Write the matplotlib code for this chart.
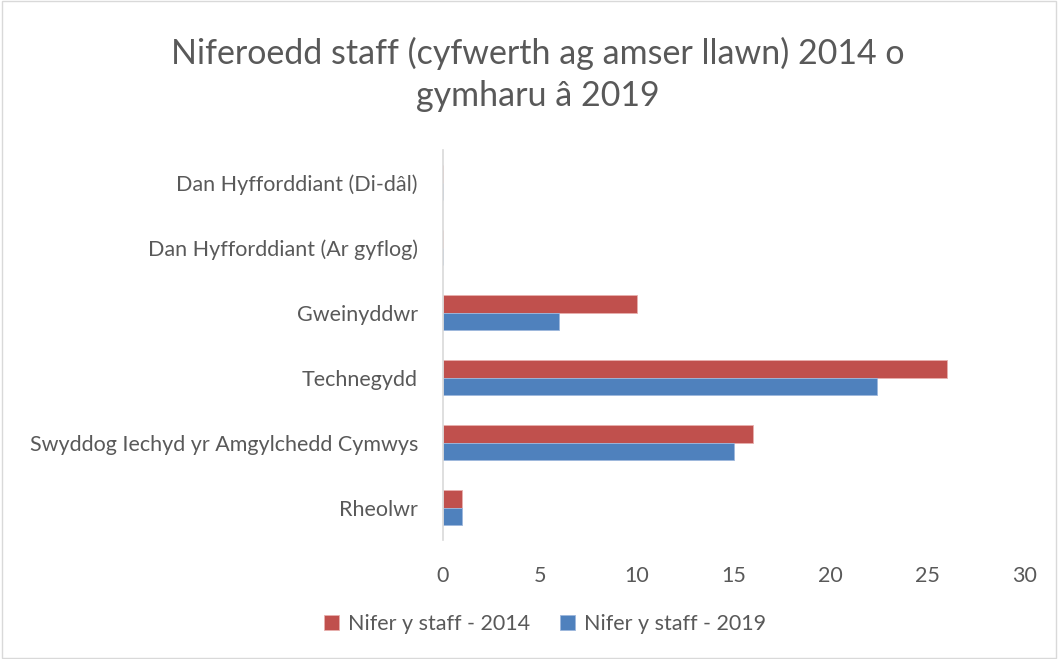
import matplotlib
matplotlib.use("Agg")
import matplotlib.pyplot as plt
import numpy as np
from matplotlib.patches import Rectangle

categories = ["Rheolwr", "Swyddog Iechyd yr Amgylchedd Cymwys", "Technegydd",
              "Gweinyddwr", "Dan Hyfforddiant (Ar gyflog)", "Dan Hyfforddiant (Di-dâl)"]
staff_2014 = [1, 16, 26, 10, 0, 0]
staff_2019 = [1, 15, 22.4, 6, 0, 0]
x_ticks = [0, 5, 10, 15, 20, 25, 30]
title = "Niferoedd staff (cyfwerth ag amser llawn) 2014 o\ngymharu â 2019"

plt.rcParams['font.family'] = ['Lato', 'DejaVu Sans']
grey = '#595959'
red = '#C0504D'
blue = '#4F81BD'

fig = plt.figure(figsize=(10.58, 6.59), dpi=100)
fig.patches.append(Rectangle((0.002, 0.002), 0.996, 0.996, transform=fig.transFigure,
                             fill=False, edgecolor='#D9D9D9', linewidth=1))
ax = fig.add_axes([0.4187, 0.1806, 0.968 - 0.4187, 0.772 - 0.1806])

y = np.arange(len(categories))
h = 0.27
ax.barh(y + h / 2, staff_2014, height=h, color=red, edgecolor='#E8B0AE', linewidth=0.6,
        label="Nifer y staff - 2014")
ax.barh(y - h / 2, staff_2019, height=h, color=blue, edgecolor='#9DB7DC', linewidth=0.6,
        label="Nifer y staff - 2019")

ax.set_xlim(0, 30)
ax.set_ylim(-0.5, len(categories) - 0.5)
ax.set_xticks(x_ticks)
ax.set_xticklabels([str(t) for t in x_ticks])
ax.set_yticks(y)
ax.set_yticklabels(categories)
for s in ['top', 'right', 'bottom']:
    ax.spines[s].set_visible(False)
ax.spines['left'].set_color('#D9D9D9')
ax.spines['left'].set_linewidth(1.2)
ax.tick_params(axis='both', length=0, labelsize=15.5, colors=grey)
ax.tick_params(axis='y', pad=18)
ax.tick_params(axis='x', pad=19)

fig.text(0.508, 0.887, title, ha='center', va='center', fontsize=24.5, color=grey,
         linespacing=1.35)

leg = fig.legend(loc='center', bbox_to_anchor=(0.515, 0.053), ncol=2, frameon=False,
                 fontsize=15.5, handlelength=0.7, handleheight=0.7, columnspacing=1.4,
                 handletextpad=0.4)
for t in leg.get_texts():
    t.set_color(grey)

fig.savefig("out.png", dpi=100)
